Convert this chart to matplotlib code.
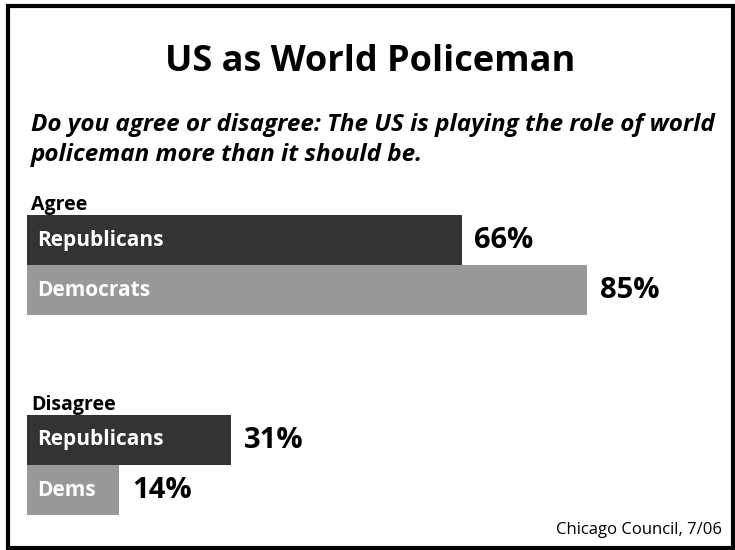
import matplotlib
matplotlib.use('Agg')
import matplotlib.pyplot as plt
from matplotlib import font_manager
from matplotlib.patches import Rectangle

# data
groups = ['Agree', 'Disagree']
bar_labels = ['Republicans', 'Democrats', 'Republicans', 'Dems']
values = [66, 85, 31, 14]
colors = ['#333333', '#999999', '#333333', '#999999']
positions = [0, 1, 4, 5]

title = 'US as World Policeman'
question = ('Do you agree or disagree: The US is playing the role of world\n'
            'policeman more than it should be.')
source = 'Chicago Council, 7/06'

names = {f.name for f in font_manager.fontManager.ttflist}
font = 'Liberation Sans Narrow' if 'Liberation Sans Narrow' in names else 'Open Sans'
plt.rcParams['font.family'] = [font, 'DejaVu Sans']

W, H = 735, 550
fig = plt.figure(figsize=(W / 100, H / 100), dpi=100)

# bar axes: 0% at x=27px, 100% at x=686px; bars span y=215..516px
ax = fig.add_axes([27 / W, 1 - 515 / H, 659 / W, 300 / H])
ax.barh(positions, values, height=1.0, color=colors, edgecolor='none')
ax.set_xlim(0, 100)
ax.set_ylim(5.5, -0.5)
ax.axis('off')

for p, v, lab in zip(positions, values, bar_labels):
    ax.annotate(lab, (0, p), xytext=(7, 0), textcoords='offset points',
                ha='left', va='center', color='white', fontsize=15,
                fontweight='bold')
    ax.annotate('{}%'.format(v), (v, p), xytext=(9, 0), textcoords='offset points',
                ha='left', va='center', color='black', fontsize=21,
                fontweight='bold')

for g, p in zip(groups, [0, 4]):
    ax.annotate(g, (0, p - 0.5), xytext=(3, 0), textcoords='offset points',
                ha='left', va='bottom', color='black', fontsize=14,
                fontweight='bold', annotation_clip=False)

fig.text(370 / W, 1 - 62 / H, title, ha='center', va='center',
         fontsize=26, fontweight='bold')
fig.text(31 / W, 1 - 140 / H, question, ha='left', va='center',
         fontsize=17.5, fontweight='bold', style='italic', linespacing=1.35)
fig.text(722 / W, 1 - 530 / H, source, ha='right', va='center', fontsize=12)

fig.patches.append(Rectangle((8 / W, 2 / H), 725 / W, 542 / H,
                             transform=fig.transFigure, fill=False,
                             edgecolor='black', linewidth=3))

fig.savefig('out.png', dpi=100)
